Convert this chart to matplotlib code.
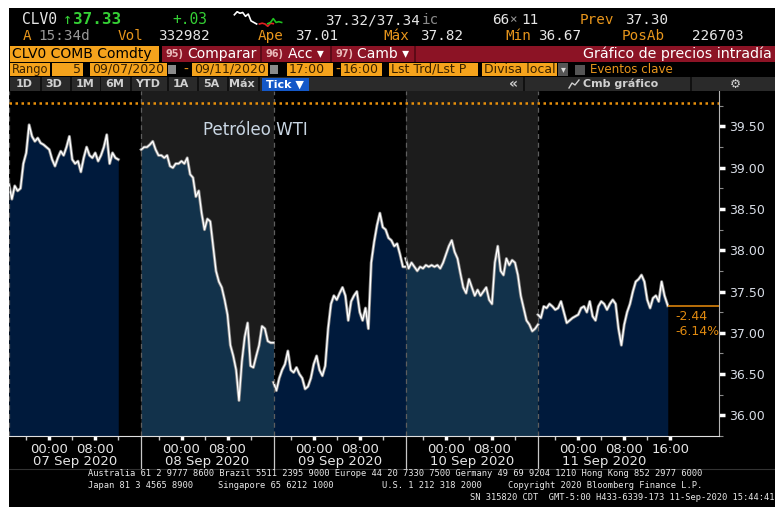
import numpy as np
import matplotlib.pyplot as plt
import matplotlib.transforms as mtrans
from matplotlib.patches import Rectangle
from matplotlib.lines import Line2D

# WTI crude, 30 minute samples from the 17:00 session open (CDT)
days = ['07 Sep 2020', '08 Sep 2020', '09 Sep 2020', '10 Sep 2020', '11 Sep 2020']
sep07 = [38.80, 38.62, 38.78, 38.72, 38.75, 39.05, 39.18, 39.52, 39.38, 39.32,
         39.36, 39.30, 39.28, 39.25, 39.22, 39.10, 39.02, 39.12, 39.20, 39.15,
         39.25, 39.38, 39.10, 39.05, 39.08, 38.95, 39.12, 39.25, 39.15, 39.12,
         39.18, 39.08, 39.15, 39.25, 39.40, 39.05, 39.18, 39.12, 39.10]
sep08 = [39.22, 39.25, 39.25, 39.28, 39.32, 39.22, 39.15, 39.15, 39.12, 39.15,
         39.02, 39.00, 39.05, 39.05, 39.08, 39.05, 39.12, 38.92, 38.88, 38.65,
         38.72, 38.45, 38.25, 38.38, 38.35, 38.05, 37.75, 37.62, 37.55, 37.40,
         37.22, 36.85, 36.72, 36.55, 36.18, 36.65, 36.95, 37.12, 36.60, 36.58,
         36.72, 36.85, 37.08, 37.05, 36.90, 36.88, 36.88]
sep09 = [36.40, 36.30, 36.45, 36.55, 36.62, 36.78, 36.55, 36.52, 36.58, 36.50,
         36.45, 36.32, 36.35, 36.45, 36.62, 36.72, 36.55, 36.48, 36.60, 37.05,
         37.35, 37.45, 37.40, 37.48, 37.55, 37.45, 37.15, 37.38, 37.45, 37.50,
         37.25, 37.15, 37.30, 37.05, 37.85, 38.10, 38.30, 38.45, 38.28, 38.25,
         38.15, 38.12, 38.05, 38.08, 37.95, 37.80, 37.80]
sep10 = [37.90, 37.78, 37.85, 37.80, 37.75, 37.80, 37.78, 37.82, 37.80, 37.82,
         37.80, 37.82, 37.78, 37.85, 37.95, 38.05, 38.12, 37.98, 37.90, 37.72,
         37.55, 37.48, 37.65, 37.55, 37.45, 37.52, 37.45, 37.50, 37.55, 37.40,
         37.35, 37.85, 38.05, 37.75, 37.70, 37.90, 37.82, 37.88, 37.85, 37.70,
         37.45, 37.30, 37.15, 37.10, 37.02, 37.05, 37.10]
sep11 = [37.22, 37.18, 37.32, 37.30, 37.35, 37.32, 37.28, 37.30, 37.38, 37.25,
         37.12, 37.15, 37.18, 37.20, 37.22, 37.30, 37.32, 37.25, 37.38, 37.20,
         37.15, 37.32, 37.38, 37.35, 37.28, 37.35, 37.40, 37.35, 37.05, 36.85,
         37.10, 37.25, 37.35, 37.50, 37.62, 37.65, 37.70, 37.62, 37.40, 37.30,
         37.42, 37.45, 37.38, 37.62, 37.45]
last_time = (15, 34)
last_price = 37.33
net_chg = '-2.44'
pct_chg = '-6.14%'
ref_level = 39.79

y_ticks = [36.0, 36.5, 37.0, 37.5, 38.0, 38.5, 39.0, 39.5]
time_labels = ['00:00', '08:00']
spark_white = [37.7, 37.9, 37.8, 37.85, 37.6, 37.75, 37.3, 37.2, 37.1]
spark_red = [37.1, 37.15, 37.1, 36.95, 37.15, 37.12]
spark_green = [37.12, 37.2, 37.45, 37.2, 37.25, 37.2]

W, H = 775, 507
SESSION = 23      # hours per session on the compressed axis
ORANGE = '#e8961c'
GREEN = '#35d035'


def fx(x):
    return x / W


def fy(y):
    return 1 - y / H


def box(x0, y0, x1, y1, color, z=1):
    fig.patches.append(Rectangle((fx(x0), fy(y1)), (x1 - x0) / W, (y1 - y0) / H,
                                 transform=fig.transFigure, facecolor=color,
                                 edgecolor='none', zorder=z))


def txt(x, y, s, color, size=10, family='DejaVu Sans Mono', ha='left', **kw):
    fig.text(fx(x), fy(y), s, color=color, fontsize=size, family=family,
             ha=ha, va='center', zorder=5, **kw)


fig = plt.figure(figsize=(W / 100, H / 100), dpi=100, facecolor='white')
box(9, 8, W, H, 'black', z=-10)

# ---- header rows ----
txt(22, 20, 'CLV0', '#e6e6e6', 10.5)
txt(63, 20, '↑', GREEN, 11)
txt(73, 20, '37.33', GREEN, 11.5, weight='bold')
txt(172, 20, '+.03', GREEN, 10.5)
txt(325, 20, '37.32/37.34', '#e6e6e6', 10.3)
txt(422, 20, 'ic', '#8a8a8a', 10.3)
txt(492, 20, '66', '#e6e6e6', 10.3)
txt(509, 20, '×', '#9a9a9a', 9)
txt(521, 20, '11', '#e6e6e6', 10.3)
txt(580, 20, 'Prev', ORANGE, 10.3)
txt(625, 20, '37.30', '#e6e6e6', 10.3)

row2 = [(23, 'A', ORANGE), (38, '15:34d', '#9a9a9a'), (118, 'Vol', ORANGE),
        (158, '332982', '#e6e6e6'), (258, 'Ape', ORANGE), (295, '37.01', '#e6e6e6'),
        (383, 'Máx', ORANGE), (420, '37.82', '#e6e6e6'), (505, 'Mín', ORANGE),
        (538, '36.67', '#e6e6e6'), (622, 'PosAb', ORANGE), (692, '226703', '#e6e6e6')]
for x, s, c in row2:
    txt(x, 36, s, c, 10.3)

# sparkline
sp = fig.add_axes([fx(232), fy(27), 52 / W, 16 / H])
sp.set_facecolor('black')
sp.axis('off')
n1, n2 = len(spark_white), len(spark_red)
sp.plot(np.arange(n1), spark_white, color='white', lw=1.2)
sp.plot(np.arange(n1, n1 + n2), spark_red, color='#e02020', lw=1.2)
sp.plot(np.arange(n1 + 3, n1 + 3 + len(spark_green)), spark_green, color='#20c020', lw=1.2)

# security / title bar
box(10, 46, 159, 62, '#f5a31c')
txt(12, 54, 'CLV0 COMB Comdty', 'black', 10, family='DejaVu Sans')
box(162, 46, W, 62, '#8c1325')
for x in [260, 330, 414]:
    box(x, 46, x + 1.5, 62, '#5c0a16', z=2)
txt(166, 54, '95)', '#e8b8b8', 7, family='DejaVu Sans', weight='bold')
txt(187, 54, 'Comparar', 'white', 10, family='DejaVu Sans')
txt(266, 54, '96)', '#e8b8b8', 7, family='DejaVu Sans', weight='bold')
txt(288, 54, 'Acc ▾', 'white', 10, family='DejaVu Sans')
txt(335, 54, '97)', '#e8b8b8', 7, family='DejaVu Sans', weight='bold')
txt(357, 54, 'Camb ▾', 'white', 10, family='DejaVu Sans')
txt(772, 54, 'Gráfico de precios intradía', 'white', 10.3, family='DejaVu Sans', ha='right')

# range bar
dark = '#3a2200'
fields = [(10, 50, 'Rango'), (52, 83, '5'), (90, 167, '09/07/2020'), (192, 268, '09/11/2020'),
          (287, 333, '17:00'), (341, 382, '16:00'), (389, 478, 'Lst Trd/Lst P'),
          (482, 557, 'Divisa local')]
for x0, x1, s in fields:
    box(x0, 63, x1, 76, '#f5a31c')
    if s == '5':
        txt(x1 - 2, 69.5, s, dark, 9, family='DejaVu Sans', ha='right')
    elif s == 'Rango':
        txt(x0 + 2, 69.5, s, dark, 8.3, family='DejaVu Sans')
    else:
        txt(x0 + 2, 69.5, s, dark, 9, family='DejaVu Sans')
for x in [168, 270]:
    box(x, 65, x + 8, 74, '#8a8a8a')
txt(183, 69.5, '-', ORANGE, 10, family='DejaVu Sans')
txt(335, 69.5, '-', ORANGE, 10, family='DejaVu Sans')
box(558, 63, 568, 76, '#555555')
txt(563, 69.5, '▾', '#dddddd', 7, family='DejaVu Sans', ha='center')
box(575, 65, 585, 75, '#555555')
txt(590, 69.5, 'Eventos clave', ORANGE, 8.6, family='DejaVu Sans')

# period buttons
box(10, 77, W, 91, '#2a2a2a')
for x in [40, 70, 100, 130, 167, 197, 227, 258, 523, 690]:
    box(x, 77, x + 1.5, 91, '#111111', z=2)
for x, s in [(24, '1D'), (54, '3D'), (85, '1M'), (115, '6M'), (148, 'YTD'),
             (181, '1A'), (211, '5A'), (242, 'Máx')]:
    txt(x, 84, s, '#d0d0d0', 8, family='DejaVu Sans', ha='center', weight='bold')
box(262, 78, 309, 91, '#1458c8', z=2)
txt(285, 84.5, 'Tick ▼', 'white', 8, family='DejaVu Sans', ha='center', weight='bold')
txt(513, 84, '«', '#d0d0d0', 10, family='DejaVu Sans', ha='center', weight='bold')
fig.add_artist(Line2D([fx(569), fx(572), fx(575), fx(579)], [fy(88), fy(83), fy(85), fy(80)],
                      transform=fig.transFigure, color='#d0d0d0', lw=1))
txt(583, 84, 'Cmb gráfico', '#d0d0d0', 8, family='DejaVu Sans', weight='bold')
txt(735, 84, '⚙', '#d0d0d0', 9, family='DejaVu Sans', ha='center')

# ---- price chart ----
ax = fig.add_axes([fx(9), fy(436), (719 - 9) / W, (436 - 91) / H])
ax.set_facecolor('black')
x_max = 710 / 5.75
y_lo, y_hi = 35.796, 39.93
ax.set_xlim(0, x_max)
ax.set_ylim(y_lo, y_hi)

sessions = [sep07, sep08, sep09, sep10, sep11]
fills = ['#001a3c', '#12324b']
for d, vals in enumerate(sessions):
    t = d * SESSION + np.arange(len(vals)) * 0.5
    v = list(vals)
    if d == len(sessions) - 1:
        t = np.append(t, d * SESSION + (last_time[0] * 60 + last_time[1] - 17 * 60) / 60 + 24)
        v.append(last_price)
    if d % 2 == 1:
        ax.axvspan(d * SESSION, (d + 1) * SESSION, color='#1c1c1c', lw=0, zorder=0)
    ax.fill_between(t, v, y_lo - 1, color=fills[d % 2], lw=0, zorder=1)
    ax.plot(t, v, color='#8a8a8a', lw=2.2, zorder=2)
    ax.plot(t, v, color='white', lw=1.0, zorder=3)
    ax.axvline(d * SESSION, color='#5e5e5e', ls=(0, (4, 3)), lw=0.9, zorder=4)
t_last = t[-1]

ax.axhline(ref_level, color='#e8900c', ls=(0, (1, 1.4)), lw=1.8, zorder=4)
ax.hlines(last_price, t_last, x_max, color='#c8780a', lw=1.3, zorder=4)
ax.text(0.939, 0.345, net_chg, transform=ax.transAxes, color='#e08a10', fontsize=9, va='center')
ax.text(0.939, 0.304, pct_chg, transform=ax.transAxes, color='#e08a10', fontsize=9, va='center')
ax.text(0.273, 0.887, 'Petróleo WTI', transform=ax.transAxes, color='#c9d6e3', fontsize=12, va='center')

for s in ['top', 'left']:
    ax.spines[s].set_visible(False)
ax.spines['right'].set_color('#b4b4b4')
ax.spines['bottom'].set_color('#e0e0e0')

ax.yaxis.tick_right()
ax.set_yticks(y_ticks)
ax.set_yticklabels(['%.2f' % v for v in y_ticks])
ax.set_yticks(np.arange(35.75, 39.9, 0.25), minor=True)
ax.tick_params(axis='y', which='major', length=4, width=2.5, colors='white',
               labelcolor='#d8dde6', labelsize=9, pad=3)
ax.tick_params(axis='y', which='minor', length=3, width=0.8, colors='#8a8a8a')

xt, xl = [], []
for d in range(len(days)):
    for h, lab in zip([7, 15], time_labels):
        xt.append(d * SESSION + h)
        xl.append(lab)
xt.append((len(days) - 1) * SESSION + 23)
xl.append('16:00')
ax.set_xticks(xt)
ax.set_xticklabels(xl)
minor = [d * SESSION + h for d in range(len(days)) for h in [3, 11, 19]]
ax.set_xticks(minor, minor=True)
ax.tick_params(axis='x', which='major', length=3, width=2.5, colors='white',
               labelcolor='#e6e6e6', labelsize=9.5, pad=2)
ax.tick_params(axis='x', which='minor', length=3, width=1, colors='#c8c8c8')

blend = mtrans.blended_transform_factory(ax.transData, ax.transAxes)
for d, day in enumerate(days):
    ax.text(d * SESSION + 11.5, -0.075, day, transform=blend, ha='center', va='center',
            color='#e6e6e6', fontsize=9.5, clip_on=False)
    if d > 0:
        ax.add_line(Line2D([d * SESSION, d * SESSION], [0, -0.096], transform=blend,
                           color='#c8c8c8', lw=0.9, clip_on=False))

fig.add_artist(Line2D([fx(9), 1], [fy(469), fy(469)], transform=fig.transFigure,
                      color='#333333', lw=0.8))

# ---- footer ----
foot = '#e8e8e8'
txt(88, 474, 'Australia 61 2 9777 8600 Brazil 5511 2395 9000 Europe 44 20 7330 7500 '
             'Germany 49 69 9204 1210 Hong Kong 852 2977 6000', foot, 6.3)
txt(88, 485, 'Japan 81 3 4565 8900', foot, 6.3)
txt(218, 485, 'Singapore 65 6212 1000', foot, 6.3)
txt(382, 485, 'U.S. 1 212 318 2000', foot, 6.3)
txt(508, 485, 'Copyright 2020 Bloomberg Finance L.P.', foot, 6.3)
txt(774, 497, 'SN 315820 CDT  GMT-5:00 H433-6339-173 11-Sep-2020 15:44:41', foot, 6.3, ha='right')

plt.savefig('out.png', dpi=100, facecolor='white')
